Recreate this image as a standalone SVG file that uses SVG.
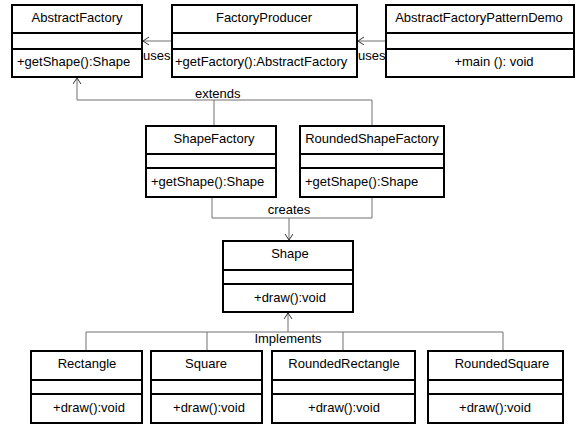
<svg xmlns="http://www.w3.org/2000/svg" width="583" height="429" viewBox="0 0 583 429">
<style>
.box{fill:#fff;stroke:#000;stroke-width:2}
.div{stroke:#000;stroke-width:2}
.t{font-family:"Liberation Sans",Arial,sans-serif;font-size:13px;fill:#000}
.c{text-anchor:middle}
.con{fill:none;stroke:#707070;stroke-width:1}
</style>
<defs>
<marker id="arr" markerUnits="userSpaceOnUse" markerWidth="10" markerHeight="10" refX="7" refY="4" orient="auto">
<path d="M1,0 L7,4 L1,8" fill="none" stroke="#333" stroke-width="1"/>
</marker>
</defs>
<rect width="583" height="429" fill="#fff"/>
<g id="connectors">
<path class="con" d="M172,41 H143" marker-end="url(#arr)"/>
<path class="con" d="M386,41 H358" marker-end="url(#arr)"/>
<path class="con" d="M214,126 V100 H77 V78" marker-end="url(#arr)"/>
<path class="con" d="M372,126 V100 H214"/>
<path class="con" d="M212,197 V218 H372 V197"/>
<path class="con" d="M289,218 V240" marker-end="url(#arr)"/>
<path class="con" d="M86,351 V332 H503 V351"/>
<path class="con" d="M207,351 V332"/>
<path class="con" d="M343,351 V332"/>
<path class="con" d="M288,332 V313" marker-end="url(#arr)"/>
<text class="t" x="143" y="60">uses</text>
<text class="t" x="358" y="60">uses</text>
<text class="t" x="195" y="98">extends</text>
<text class="t c" x="289" y="214">creates</text>
<text class="t c" x="288" y="343">Implements</text>
</g>
<g id="AbstractFactory">
<rect class="box" x="12" y="5" width="130" height="72"/>
<line class="div" x1="12" y1="33" x2="142" y2="33"/><line class="div" x1="12" y1="49" x2="142" y2="49"/>
<text class="t c" x="77" y="22">AbstractFactory</text>
<text class="t" x="17" y="66">+getShape():Shape</text>
</g>
<g id="FactoryProducer">
<rect class="box" x="172" y="5" width="185" height="72"/>
<line class="div" x1="172" y1="33" x2="357" y2="33"/><line class="div" x1="172" y1="49" x2="357" y2="49"/>
<text class="t c" x="264" y="22">FactoryProducer</text>
<text class="t" x="175" y="66">+getFactory():AbstractFactory</text>
</g>
<g id="AbstractFactoryPatternDemo">
<rect class="box" x="386" y="5" width="188" height="72"/>
<line class="div" x1="386" y1="33" x2="574" y2="33"/><line class="div" x1="386" y1="49" x2="574" y2="49"/>
<text class="t c" x="479" y="22">AbstractFactoryPatternDemo</text>
<text class="t c" x="494" y="66">+main (): void</text>
</g>
<g id="ShapeFactory">
<rect class="box" x="146" y="126" width="130" height="71"/>
<line class="div" x1="146" y1="154" x2="276" y2="154"/><line class="div" x1="146" y1="168" x2="276" y2="168"/>
<text class="t c" x="214" y="143">ShapeFactory</text>
<text class="t" x="151" y="186">+getShape():Shape</text>
</g>
<g id="RoundedShapeFactory">
<rect class="box" x="300" y="126" width="144" height="71"/>
<line class="div" x1="300" y1="154" x2="444" y2="154"/><line class="div" x1="300" y1="168" x2="444" y2="168"/>
<text class="t c" x="372" y="143">RoundedShapeFactory</text>
<text class="t" x="305" y="186">+getShape():Shape</text>
</g>
<g id="Shape">
<rect class="box" x="223" y="241" width="130" height="71"/>
<line class="div" x1="223" y1="270" x2="353" y2="270"/><line class="div" x1="223" y1="284" x2="353" y2="284"/>
<text class="t c" x="290" y="258">Shape</text>
<text class="t c" x="290" y="302">+draw():void</text>
</g>
<g id="Rectangle">
<rect class="box" x="31" y="351" width="111" height="72"/>
<line class="div" x1="31" y1="380" x2="142" y2="380"/><line class="div" x1="31" y1="394" x2="142" y2="394"/>
<text class="t c" x="87" y="368">Rectangle</text>
<text class="t c" x="89" y="412">+draw():void</text>
</g>
<g id="Square">
<rect class="box" x="151" y="351" width="111" height="72"/>
<line class="div" x1="151" y1="380" x2="262" y2="380"/><line class="div" x1="151" y1="394" x2="262" y2="394"/>
<text class="t c" x="206" y="368">Square</text>
<text class="t c" x="209" y="412">+draw():void</text>
</g>
<g id="RoundedRectangle">
<rect class="box" x="272" y="351" width="143" height="72"/>
<line class="div" x1="272" y1="380" x2="415" y2="380"/><line class="div" x1="272" y1="394" x2="415" y2="394"/>
<text class="t c" x="344" y="368">RoundedRectangle</text>
<text class="t c" x="344" y="412">+draw():void</text>
</g>
<g id="RoundedSquare">
<rect class="box" x="428" y="351" width="135" height="72"/>
<line class="div" x1="428" y1="380" x2="563" y2="380"/><line class="div" x1="428" y1="394" x2="563" y2="394"/>
<text class="t c" x="502" y="368">RoundedSquare</text>
<text class="t c" x="495" y="412">+draw():void</text>
</g>
</svg>
